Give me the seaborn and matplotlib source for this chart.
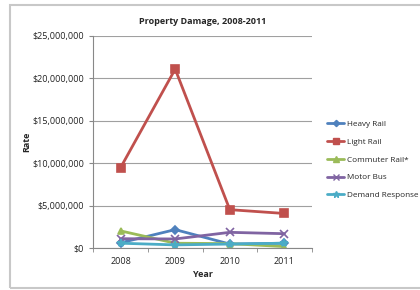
import matplotlib
matplotlib.use("Agg")
import matplotlib.pyplot as plt
import matplotlib.patches as mpatches
from matplotlib.lines import Line2D
import seaborn as sns
import pandas as pd
from matplotlib.ticker import FuncFormatter, MultipleLocator, FixedLocator

years = ["2008", "2009", "2010", "2011"]
series_names = ["Heavy Rail", "Light Rail", "Commuter Rail*", "Motor Bus", "Demand Response"]
heavy_rail = [650000, 2200000, 500000, 600000]
light_rail = [9500000, 21100000, 4550000, 4100000]
commuter_rail = [2050000, 600000, 550000, 200000]
motor_bus = [1130000, 1100000, 1880000, 1720000]
demand_response = [600000, 400000, 500000, 600000]

values = [heavy_rail, light_rail, commuter_rail, motor_bus, demand_response]

colors = ["#4F81BD", "#C0504D", "#9BBB59", "#8064A2", "#4BACC6"]
markers = ["D", "s", "^", "x", "*"]
msizes = [4, 6, 5, 6, 6]

sns.set_style("white")
plt.rcParams["font.family"] = ["Open Sans", "DejaVu Sans"]

fig = plt.figure(figsize=(4.2, 2.9), dpi=100)
fig.patches.append(mpatches.Rectangle((10/420, 2/290), 1.2, 283/290, transform=fig.transFigure,
                                      fill=False, edgecolor="#C8C8C8", linewidth=1.5))
ax = fig.add_axes([93.3/420, 1-248.3/290, 218.4/420, 212.3/290])

for name, vals, c, m, ms in zip(series_names, values, colors, markers, msizes):
    d = pd.DataFrame({"Year": years, "Rate": vals})
    sns.lineplot(data=d, x="Year", y="Rate", color=c, marker=m, markersize=ms,
                 markeredgecolor=c, markerfacecolor=c, markeredgewidth=1.2,
                 linewidth=2, ax=ax, sort=False)

ax.set_xlim(-0.5, 3.5)
ax.set_ylim(0, 25000000)
ax.yaxis.set_major_locator(MultipleLocator(5000000))
ax.yaxis.set_major_formatter(FuncFormatter(lambda v, p: "${:,.0f}".format(v)))
ax.xaxis.set_minor_locator(FixedLocator([-0.5, 0.5, 1.5, 2.5, 3.5]))
ax.grid(axis="y", color="#A0A0A0", linewidth=0.8)
ax.set_axisbelow(True)
for s in ["top", "right"]:
    ax.spines[s].set_visible(False)
ax.spines["left"].set_color("#888888")
ax.spines["bottom"].set_color("#888888")
ax.tick_params(axis="both", labelsize=6.5, colors="#888888", length=3, direction="out", left=True, bottom=False)
ax.tick_params(axis="x", which="minor", bottom=True, length=3, color="#888888")
ax.tick_params(axis="both", labelcolor="#222222")
ax.set_xlabel("Year", fontsize=6.5, fontweight="bold", labelpad=3)
ax.set_ylabel("Rate", fontsize=6.5, fontweight="bold", labelpad=0.5)
ax.set_title("Property Damage, 2008-2011", fontsize=6.5, fontweight="bold", pad=9)

handles = [Line2D([], [], color=c, marker=m, markersize=ms*0.8, linewidth=2,
                  markeredgecolor=c, markerfacecolor=c)
           for c, m, ms in zip(colors, markers, msizes)]
fig.legend(handles, series_names, loc="upper left", bbox_to_anchor=(324/420, 1-117/290),
           frameon=False, fontsize=5.9, handlelength=2.1, handletextpad=0.25,
           labelspacing=1.23, borderaxespad=0)

fig.savefig("out.png", dpi=100)
